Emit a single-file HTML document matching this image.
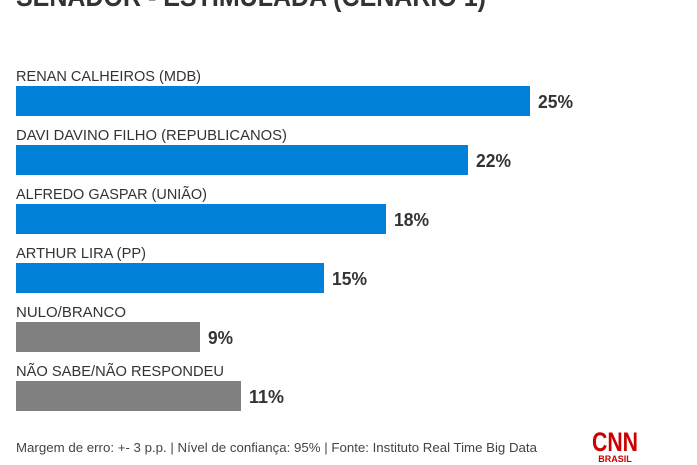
<!DOCTYPE html><html><head><style>html,body{margin:0;padding:0;background:#fff}svg{display:block}</style></head><body>
<svg width="697" height="465" xmlns="http://www.w3.org/2000/svg" font-family="'Liberation Sans',sans-serif">
<text x="16" y="6" font-size="28" font-weight="bold" fill="#333" textLength="470" lengthAdjust="spacingAndGlyphs">SENADOR - ESTIMULADA (CENÁRIO 1)</text>
<g font-size="15" fill="#333">
<text x="16" y="81" textLength="185" lengthAdjust="spacingAndGlyphs">RENAN CALHEIROS (MDB)</text>
<text x="16" y="140" textLength="271" lengthAdjust="spacingAndGlyphs">DAVI DAVINO FILHO (REPUBLICANOS)</text>
<text x="16" y="199" textLength="191" lengthAdjust="spacingAndGlyphs">ALFREDO GASPAR (UNIÃO)</text>
<text x="16" y="258" textLength="130" lengthAdjust="spacingAndGlyphs">ARTHUR LIRA (PP)</text>
<text x="16" y="317" textLength="110" lengthAdjust="spacingAndGlyphs">NULO/BRANCO</text>
<text x="16" y="376" textLength="208" lengthAdjust="spacingAndGlyphs">NÃO SABE/NÃO RESPONDEU</text>
</g>
<rect x="16" y="86" width="514" height="30" fill="#0080d6"/>
<rect x="16" y="145" width="452" height="30" fill="#0080d6"/>
<rect x="16" y="204" width="370" height="30" fill="#0080d6"/>
<rect x="16" y="263" width="308" height="30" fill="#0080d6"/>
<rect x="16" y="322" width="184" height="30" fill="#808080"/>
<rect x="16" y="381" width="225" height="30" fill="#808080"/>
<g font-size="18" font-weight="bold" fill="#333">
<text x="538" y="108" textLength="35" lengthAdjust="spacingAndGlyphs">25%</text>
<text x="476" y="167" textLength="35" lengthAdjust="spacingAndGlyphs">22%</text>
<text x="394" y="226" textLength="35" lengthAdjust="spacingAndGlyphs">18%</text>
<text x="332" y="285" textLength="35" lengthAdjust="spacingAndGlyphs">15%</text>
<text x="208" y="344" textLength="25" lengthAdjust="spacingAndGlyphs">9%</text>
<text x="249" y="403" textLength="35" lengthAdjust="spacingAndGlyphs">11%</text>
</g>
<text x="16" y="452" font-size="13" fill="#444" textLength="521" lengthAdjust="spacingAndGlyphs">Margem de erro: +- 3 p.p. | Nível de confiança: 95% | Fonte: Instituto Real Time Big Data</text>
<text x="615" y="451" font-size="27" font-weight="bold" fill="#c00" text-anchor="middle" textLength="46" lengthAdjust="spacingAndGlyphs">CNN</text>
<text x="615" y="462" font-size="9" font-weight="bold" fill="#c00" text-anchor="middle">BRASIL</text>
</svg>
</body></html>
